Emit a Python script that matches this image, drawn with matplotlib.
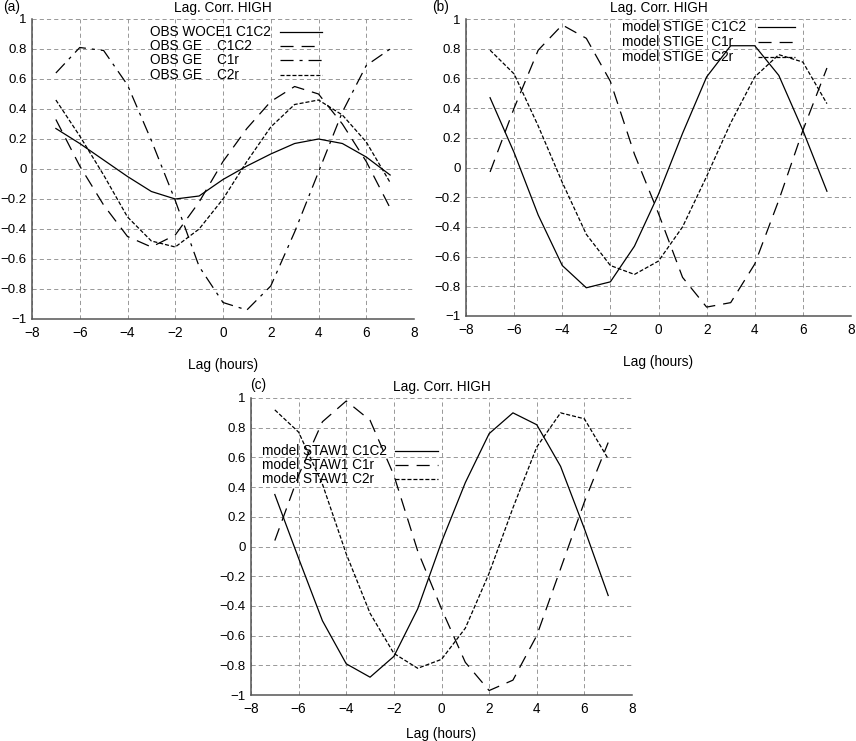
import numpy as np
import matplotlib
matplotlib.use('Agg')
import matplotlib.pyplot as plt
from matplotlib.lines import Line2D

plt.rcParams['font.family'] = ['Liberation Sans', 'DejaVu Sans']
plt.rcParams['font.size'] = 9.8
plt.rcParams['lines.scale_dashes'] = False

lags = np.arange(-7, 8)

# (a) observaciones
obs_woce_c1c2 = [0.27, 0.17, 0.06, -0.05, -0.15, -0.20, -0.18, -0.07, 0.02, 0.10, 0.17, 0.20, 0.17, 0.08, -0.04]
obs_ge_c1c2 = [0.33, 0.02, -0.24, -0.45, -0.52, -0.44, -0.22, 0.05, 0.27, 0.45, 0.55, 0.50, 0.30, 0.05, -0.26]
obs_ge_c1r = [0.64, 0.81, 0.79, 0.56, 0.19, -0.21, -0.65, -0.89, -0.94, -0.78, -0.42, -0.02, 0.38, 0.69, 0.80]
obs_ge_c2r = [0.46, 0.22, -0.04, -0.32, -0.48, -0.52, -0.40, -0.20, 0.05, 0.28, 0.43, 0.46, 0.36, 0.18, -0.09]

# (b) modelo STIGE
stige_c1c2 = [0.47, 0.10, -0.32, -0.66, -0.81, -0.77, -0.53, -0.18, 0.23, 0.61, 0.82, 0.82, 0.62, 0.25, -0.16]
stige_c1r = [-0.03, 0.40, 0.79, 0.96, 0.87, 0.58, 0.09, -0.31, -0.74, -0.94, -0.91, -0.65, -0.22, 0.25, 0.67]
stige_c2r = [0.79, 0.63, 0.28, -0.10, -0.45, -0.66, -0.72, -0.63, -0.40, -0.06, 0.30, 0.61, 0.76, 0.71, 0.43]

# (c) modelo STAW1
staw_c1c2 = [0.35, -0.08, -0.50, -0.79, -0.88, -0.74, -0.42, 0.03, 0.43, 0.76, 0.90, 0.82, 0.54, 0.12, -0.33]
staw_c1r = [0.04, 0.48, 0.84, 0.98, 0.85, 0.48, -0.03, -0.42, -0.78, -0.97, -0.90, -0.60, -0.15, 0.30, 0.70]
staw_c2r = [0.92, 0.77, 0.42, -0.05, -0.45, -0.72, -0.82, -0.76, -0.55, -0.18, 0.26, 0.67, 0.90, 0.86, 0.59]

labels_a = ['OBS WOCE1 C1C2', 'OBS GE    C1C2', 'OBS GE    C1r', 'OBS GE    C2r']
labels_b = ['model STIGE  C1C2', 'model STIGE  C1r', 'model STIGE  C2r']
labels_c = ['model STAW1 C1C2', 'model STAW1 C1r', 'model STAW1 C2r']

# estilos de linea (en puntos)
solido = (None, None)
raya_larga = (0, (9.4, 5.8))
raya_punto = (0, (9.4, 4.3, 2.2, 4.3))
raya_corta = (0, (2.9, 1.4))

W, H = 856, 741
fig = plt.figure(figsize=(W / 100, H / 100), dpi=100)


def crear_ejes(x0, x1, ytop, ybot, labelpad):
    ax = fig.add_axes([x0 / W, 1 - ybot / H, (x1 - x0) / W, (ybot - ytop) / H])
    ax.set_xlim(-8, 8)
    ax.set_ylim(-1, 1)
    ax.set_xticks(np.arange(-8, 9, 2))
    ax.set_yticks(np.round(np.arange(-1, 1.01, 0.2), 1))
    ax.set_yticklabels(['−1', '−0.8', '−0.6', '−0.4', '−0.2', '0', '0.2', '0.4', '0.6', '0.8', '1'])
    ax.tick_params(axis='x', length=0, pad=5)
    ax.tick_params(axis='y', length=0, pad=4, labelsize=9.5)
    ax.grid(True, color='#888888', linestyle=(0, (3, 2.2)), linewidth=0.6)
    ax.spines['top'].set_visible(False)
    ax.spines['right'].set_visible(False)
    for s in ['left', 'bottom']:
        ax.spines[s].set_linewidth(1.1)
        ax.spines[s].set_color('#555555')
    ax.set_title('Lag. Corr. HIGH', pad=5, fontsize=9.8)
    ax.set_xlabel('Lag (hours)', labelpad=labelpad)
    return ax


def dibujar(ax, series, estilos):
    for y, ls in zip(series, estilos):
        if ls == solido:
            ax.plot(lags, y, color='black', linewidth=0.9)
        else:
            ax.plot(lags, y, color='black', linewidth=0.9, linestyle=ls)


def leyenda(ax, labels, estilos, xt, yt, dy, xh0, xh1):
    # leyenda estilo MATLAB: texto a la izquierda, muestra de linea a la derecha
    for i, (lab, ls) in enumerate(zip(labels, estilos)):
        y = yt - i * dy
        ax.text(xt, y, lab, transform=ax.transAxes, va='center', ha='left')
        kw = dict(color='black', linewidth=0.9, transform=ax.transAxes)
        if ls != solido:
            kw['linestyle'] = ls
        ax.add_line(Line2D([xh0, xh1], [y, y], **kw))


estilos_a = [solido, raya_larga, raya_punto, raya_corta]
estilos_bc = [solido, raya_larga, raya_corta]

ax_a = crear_ejes(32, 414, 19, 319, 13)
dibujar(ax_a, [obs_woce_c1c2, obs_ge_c1c2, obs_ge_c1r, obs_ge_c2r], estilos_a)
leyenda(ax_a, labels_a, estilos_a, 0.309, 0.958, 0.0477, 0.649, 0.759)

ax_b = crear_ejes(466, 851, 19, 316, 13)
dibujar(ax_b, [stige_c1c2, stige_c1r, stige_c2r], estilos_bc)
leyenda(ax_b, labels_b, estilos_bc, 0.405, 0.974, 0.0505, 0.758, 0.855)

ax_c = crear_ejes(251, 632, 398, 695, 8)
dibujar(ax_c, [staw_c1c2, staw_c1r, staw_c2r], estilos_bc)
leyenda(ax_c, labels_c, estilos_bc, 0.029, 0.822, 0.048, 0.378, 0.491)

fig.text(3 / W, 1 - 7 / H, '(a)', va='center', ha='left')
fig.text(432 / W, 1 - 7 / H, '(b)', va='center', ha='left')
fig.text(250 / W, 1 - 385 / H, '(c)', va='center', ha='left')

fig.savefig('out.png', dpi=100)
